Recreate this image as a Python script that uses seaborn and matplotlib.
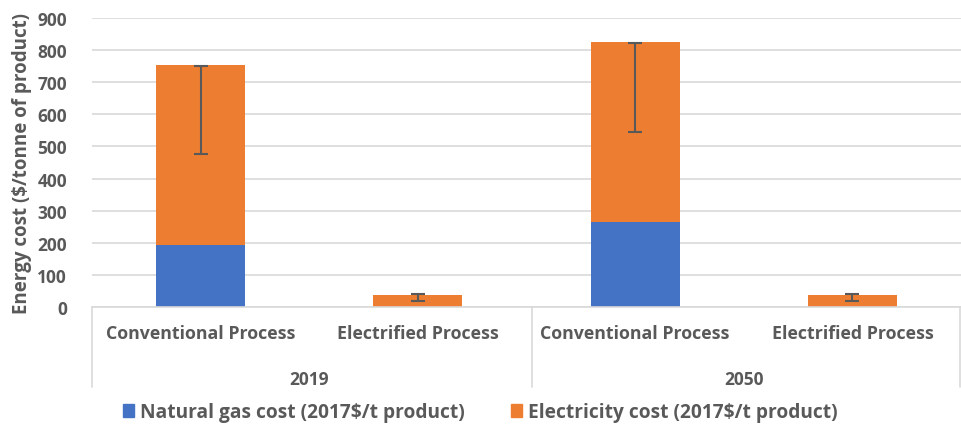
import matplotlib
matplotlib.use("Agg")
import matplotlib.pyplot as plt
import seaborn as sns
import pandas as pd
from matplotlib.lines import Line2D
from matplotlib.patches import Patch

years = ["2019", "2019", "2050", "2050"]
processes = ["Conventional Process", "Electrified Process", "Conventional Process", "Electrified Process"]
gas_cost = [193, 0, 265, 0]
elec_cost = [561, 37, 559, 37]
err_low = [475, 20, 546, 20]
err_high = [752, 41, 823, 41]
yticks = [0, 100, 200, 300, 400, 500, 600, 700, 800, 900]

BLUE = "#4472C4"
ORANGE = "#ED7D31"
GREY = "#595959"

sns.set_theme(style="white")
plt.rcParams["font.family"] = ["Open Sans", "DejaVu Sans"]
plt.rcParams["font.weight"] = "bold"

keys = [f"{y} {p}" for y, p in zip(years, processes)]
df = pd.DataFrame({"key": keys, "gas": gas_cost,
                   "total": [g + e for g, e in zip(gas_cost, elec_cost)]})

fig = plt.figure(figsize=(9.61, 4.27), dpi=100)
ax = fig.add_axes([92 / 961, 1 - 308 / 427, (961 - 92) / 961, (308 - 19) / 427])

sns.barplot(data=df, x="key", y="total", color=ORANGE, width=0.41,
            saturation=1, ax=ax, order=keys, linewidth=0)
sns.barplot(data=df, x="key", y="gas", color=BLUE, width=0.41,
            saturation=1, ax=ax, order=keys, linewidth=0)

for i, (lo, hi) in enumerate(zip(err_low, err_high)):
    mid = (lo + hi) / 2
    ax.errorbar(i, mid, yerr=(hi - lo) / 2, fmt="none", ecolor=GREY,
                elinewidth=1.5, capsize=5, capthick=1.5, zorder=5)

ax.set_ylim(0, 900)
ax.set_xlim(-0.5, 3.5)
ax.set_yticks(yticks)
ax.set_yticklabels([str(t) for t in yticks], fontsize=12.5, fontweight="bold", color=GREY)
ax.yaxis.grid(True, color="#D9D9D9", linewidth=1.2)
ax.set_axisbelow(True)
for s in ["top", "right", "left"]:
    ax.spines[s].set_visible(False)
ax.spines["bottom"].set_color("#D9D9D9")
ax.spines["bottom"].set_linewidth(1.2)
ax.tick_params(axis="y", length=0, pad=18)
ax.tick_params(axis="x", length=0, pad=12)
ax.set_xticks(range(4))
ax.set_xticklabels(processes, fontsize=12.8, fontweight="bold", color=GREY)
ax.set_xlabel("")
ax.set_ylabel("Energy cost ($/tonne of product)", fontsize=13.5,
              fontweight="bold", color=GREY, labelpad=4)

# group labels and separators
for gi, yr in enumerate(["2019", "2050"]):
    xc = 92 + (961 - 92) * (0.25 + 0.5 * gi)
    fig.text(xc / 961, 1 - 380 / 427, yr, ha="center", va="center",
             fontsize=12.5, fontweight="bold", color=GREY)
for xp in [92, 532, 960]:
    fig.add_artist(Line2D([xp / 961, xp / 961], [1 - 308 / 427, 1 - 388 / 427],
                          color="#D9D9D9", linewidth=1.2))

handles = [Patch(color=BLUE), Patch(color=ORANGE)]
fig.legend(handles, ["Natural gas cost (2017$/t product)", "Electricity cost (2017$/t product)"],
           loc="center", bbox_to_anchor=(0.5, 1 - 413 / 427), ncol=2, frameon=False,
           prop={"size": 13.8, "weight": "bold", "family": ["Open Sans", "DejaVu Sans"]},
           labelcolor=GREY, borderpad=0.1,
           handlelength=0.55, handleheight=0.7, handletextpad=0.35, columnspacing=2.4)

fig.savefig("out.png", dpi=100)
